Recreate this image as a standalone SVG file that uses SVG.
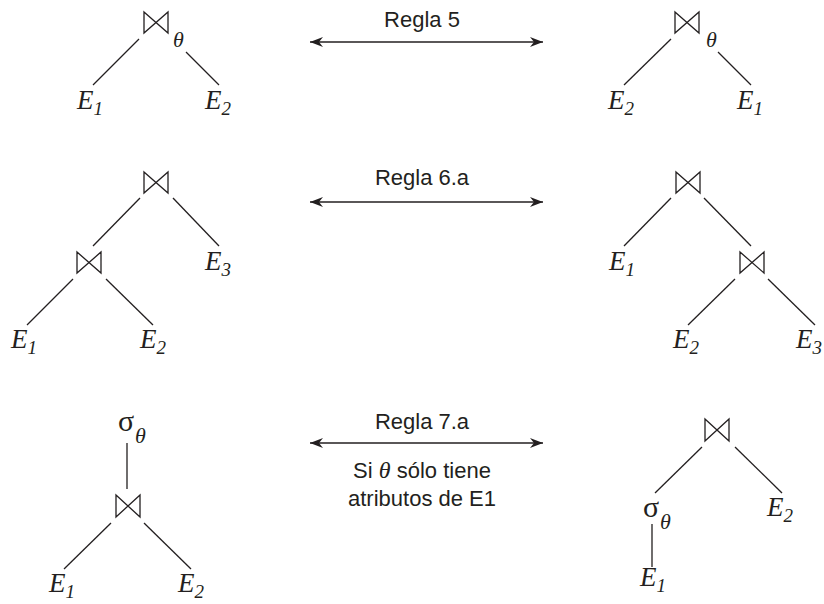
<svg xmlns="http://www.w3.org/2000/svg" width="824" height="604" viewBox="0 0 824 604">
<defs>
<style>
.bt{fill:none;stroke:#231f20;stroke-width:1.3;stroke-linejoin:miter}
.ln{stroke:#231f20;stroke-width:1.3;fill:none}
.ar{stroke:#231f20;stroke-width:1.4;fill:none}
.e{font-family:"Liberation Serif",serif;font-style:italic;font-size:27px;fill:#231f20}
.sub{font-size:19px}
.th{font-family:"Liberation Serif",serif;font-style:italic;font-size:22px;fill:#231f20}
.sg{font-family:"Liberation Serif",serif;font-size:30px;fill:#231f20}
.lbl{font-family:"Liberation Sans",Arial,sans-serif;font-size:22px;fill:#231f20;text-anchor:middle}
</style>
<marker id="ah" viewBox="-13 -6 14 12" refX="0" refY="0" markerWidth="14" markerHeight="12" markerUnits="userSpaceOnUse" orient="auto-start-reverse">
<path d="M0,0 L-13,-5 L-9,0 L-13,5 Z" fill="#231f20"/>
</marker>
</defs>
<rect width="824" height="604" fill="#fff"/>

<g id="connectors">
<line class="ln" x1="139" y1="39" x2="93" y2="85"/>
<line class="ln" x1="186" y1="52" x2="219" y2="85"/>
<line class="ln" x1="671" y1="39" x2="624" y2="85"/>
<line class="ln" x1="718" y1="52" x2="751" y2="85"/>
<line class="ln" x1="140" y1="198" x2="93" y2="246"/>
<line class="ln" x1="173" y1="198" x2="219" y2="246"/>
<line class="ln" x1="73" y1="279" x2="27" y2="325"/>
<line class="ln" x1="106" y1="279" x2="153" y2="325"/>
<line class="ln" x1="671" y1="198" x2="624" y2="246"/>
<line class="ln" x1="704" y1="198" x2="751" y2="246"/>
<line class="ln" x1="735" y1="279" x2="688" y2="325"/>
<line class="ln" x1="768" y1="279" x2="815" y2="325"/>
<line class="ln" x1="127" y1="443" x2="127" y2="489"/>
<line class="ln" x1="111" y1="523" x2="64" y2="569"/>
<line class="ln" x1="144" y1="523" x2="191" y2="569"/>
<line class="ln" x1="702" y1="447" x2="655" y2="493"/>
<line class="ln" x1="735" y1="447" x2="782" y2="493"/>
<line class="ln" x1="652" y1="524" x2="652" y2="567"/>
<line class="ar" x1="310" y1="42" x2="543" y2="42" marker-start="url(#ah)" marker-end="url(#ah)"/>
<line class="ar" x1="310" y1="202" x2="543" y2="202" marker-start="url(#ah)" marker-end="url(#ah)"/>
<line class="ar" x1="310" y1="443" x2="543" y2="443" marker-start="url(#ah)" marker-end="url(#ah)"/>
</g>

<g id="labels">
<text class="lbl" x="422" y="27">Regla 5</text>
<text class="lbl" x="422" y="185">Regla 6.a</text>
<text class="lbl" x="422" y="429">Regla 7.a</text>
<text class="lbl" x="422" y="478">Si <tspan font-family="Liberation Serif" font-style="italic" font-size="24">θ</tspan> sólo tiene</text>
<text class="lbl" x="422" y="506">atributos de E1</text>
</g>

<!-- Row 1 left -->
<g id="r1l-join">
<path class="bt" d="M144,12 L168,33 L168,12 L144,33 Z"/>
<text class="th" x="173" y="47">θ</text>
</g>
<g id="r1l-E1"><text class="e" x="77" y="109">E<tspan class="sub" dy="6">1</tspan></text></g>
<g id="r1l-E2"><text class="e" x="205" y="109">E<tspan class="sub" dy="6">2</tspan></text></g>

<!-- Row 1 right -->
<g id="r1r-join">
<path class="bt" d="M675,12 L699,33 L699,12 L675,33 Z"/>
<text class="th" x="706" y="47">θ</text>
</g>
<g id="r1r-E2"><text class="e" x="608" y="109">E<tspan class="sub" dy="6">2</tspan></text></g>
<g id="r1r-E1"><text class="e" x="737" y="109">E<tspan class="sub" dy="6">1</tspan></text></g>

<!-- Row 2 left -->
<g id="r2l-join-top"><path class="bt" d="M144,172 L168,193 L168,172 L144,193 Z"/></g>
<g id="r2l-join-mid"><path class="bt" d="M77,252 L101,273 L101,252 L77,273 Z"/></g>
<g id="r2l-E3"><text class="e" x="205" y="270">E<tspan class="sub" dy="6">3</tspan></text></g>
<g id="r2l-E1"><text class="e" x="11" y="348">E<tspan class="sub" dy="6">1</tspan></text></g>
<g id="r2l-E2"><text class="e" x="140" y="348">E<tspan class="sub" dy="6">2</tspan></text></g>

<!-- Row 2 right -->
<g id="r2r-join-top"><path class="bt" d="M676,172 L700,193 L700,172 L676,193 Z"/></g>
<g id="r2r-join-mid"><path class="bt" d="M740,252 L764,273 L764,252 L740,273 Z"/></g>
<g id="r2r-E1"><text class="e" x="609" y="270">E<tspan class="sub" dy="6">1</tspan></text></g>
<g id="r2r-E2"><text class="e" x="673" y="348">E<tspan class="sub" dy="6">2</tspan></text></g>
<g id="r2r-E3"><text class="e" x="796" y="348">E<tspan class="sub" dy="6">3</tspan></text></g>

<!-- Row 3 left -->
<g id="r3l-select"><text class="sg" x="118" y="431">σ</text><text class="th" x="135" y="443">θ</text></g>
<g id="r3l-join"><path class="bt" d="M116,495 L140,517 L140,495 L116,517 Z"/></g>
<g id="r3l-E1"><text class="e" x="49" y="592">E<tspan class="sub" dy="6">1</tspan></text></g>
<g id="r3l-E2"><text class="e" x="178" y="592">E<tspan class="sub" dy="6">2</tspan></text></g>

<!-- Row 3 right -->
<g id="r3r-join"><path class="bt" d="M705,419 L729,441 L729,419 L705,441 Z"/></g>
<g id="r3r-select"><text class="sg" x="643" y="517">σ</text><text class="th" x="660" y="529">θ</text></g>
<g id="r3r-E1"><text class="e" x="640" y="586">E<tspan class="sub" dy="6">1</tspan></text></g>
<g id="r3r-E2"><text class="e" x="767" y="516">E<tspan class="sub" dy="6">2</tspan></text></g>
</svg>
